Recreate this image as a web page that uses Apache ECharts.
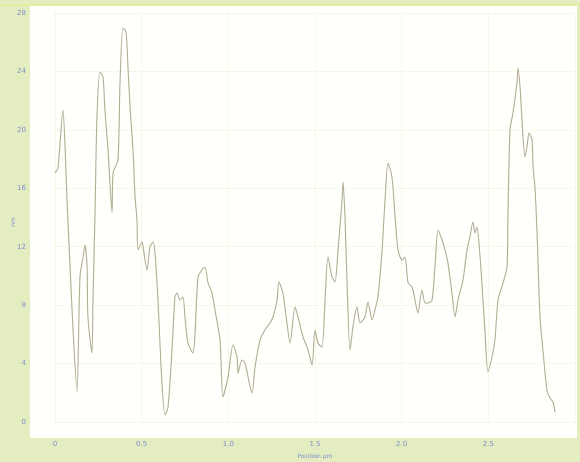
<!DOCTYPE html>
<html>
<head>
<meta charset="utf-8">
<script src="https://cdn.jsdelivr.net/npm/echarts@6/dist/echarts.min.js"></script>
<style>
  html, body { margin: 0; padding: 0; background: #e4edc0; }
  #chart { width: 580px; height: 462px; }
</style>
</head>
<body>
<div id="chart"></div>
<script>
// Surface height profile along a scan line
const positionsUm = [
  0, 0.017, 0.046, 0.058, 0.069, 0.087, 0.104, 0.127, 0.144, 0.162,
  0.173, 0.185, 0.190, 0.213, 0.219, 0.231, 0.242, 0.260, 0.277, 0.288,
  0.306, 0.329, 0.335, 0.363, 0.375, 0.392, 0.410, 0.421, 0.433, 0.450,
  0.462, 0.473, 0.479, 0.502, 0.508, 0.531, 0.548, 0.565, 0.577, 0.594,
  0.617, 0.635, 0.652, 0.675, 0.692, 0.704, 0.721, 0.738, 0.750, 0.767,
  0.796, 0.808, 0.825, 0.848, 0.865, 0.883, 0.906, 0.923, 0.952, 0.969,
  0.998, 1.027, 1.050, 1.056, 1.079, 1.096, 1.137, 1.154, 1.183, 1.211,
  1.240, 1.258, 1.281, 1.292, 1.315, 1.338, 1.356, 1.385, 1.402, 1.431,
  1.460, 1.483, 1.500, 1.517, 1.540, 1.558, 1.575, 1.598, 1.615, 1.633,
  1.656, 1.662, 1.673, 1.685, 1.702, 1.719, 1.742, 1.760, 1.788, 1.806,
  1.829, 1.846, 1.863, 1.887, 1.904, 1.921, 1.944, 1.962, 1.979, 2.002,
  2.019, 2.037, 2.060, 2.077, 2.094, 2.117, 2.135, 2.152, 2.175, 2.192,
  2.210, 2.233, 2.250, 2.267, 2.290, 2.308, 2.325, 2.354, 2.377, 2.394,
  2.411, 2.423, 2.435, 2.446, 2.463, 2.481, 2.498, 2.521, 2.538, 2.556,
  2.585, 2.608, 2.613, 2.625, 2.642, 2.665, 2.671, 2.683, 2.694, 2.711,
  2.723, 2.735, 2.752, 2.758, 2.769, 2.781, 2.798, 2.815, 2.838, 2.856,
  2.873, 2.885
];
const heightNm = [
  17.05, 17.39, 21.36, 18.83, 15.20, 10.61, 6.30, 2.05, 9.93, 11.30,
  12.12, 10.61, 7.19, 4.72, 8.35, 14.31, 20.88, 23.96, 23.62, 21.36,
  18.62, 14.38, 17.05, 17.94, 23.21, 26.97, 26.70, 24.30, 21.56, 18.62,
  15.40, 13.83, 11.78, 12.32, 11.98, 10.41, 11.98, 12.32, 11.57, 8.35,
  2.67, 0.48, 1.03, 4.93, 8.56, 8.83, 8.35, 8.56, 7.19, 5.41,
  4.72, 6.09, 9.93, 10.41, 10.61, 9.52, 8.83, 7.67, 5.61, 1.71,
  3.08, 5.27, 4.45, 3.35, 4.24, 4.04, 1.99, 3.77, 5.61, 6.30,
  6.78, 7.19, 8.35, 9.58, 8.83, 6.78, 5.41, 7.87, 7.19, 5.82,
  4.93, 3.90, 6.30, 5.41, 5.13, 8.35, 11.30, 9.93, 9.58, 11.78,
  15.20, 16.43, 14.03, 9.52, 4.93, 6.50, 7.87, 6.78, 7.19, 8.22,
  6.98, 7.67, 8.56, 11.78, 15.20, 17.73, 16.77, 14.03, 11.78, 11.09,
  11.30, 9.52, 9.24, 8.35, 7.46, 9.04, 8.15, 8.15, 8.35, 10.61,
  13.14, 12.46, 11.78, 10.89, 8.83, 7.19, 8.35, 9.72, 11.78, 12.67,
  13.69, 12.94, 13.35, 12.25, 9.52, 6.09, 3.42, 4.45, 5.61, 8.35,
  9.52, 10.61, 14.03, 19.99, 21.15, 23.21, 24.23, 22.93, 20.67, 18.14,
  18.83, 19.78, 19.31, 17.46, 16.09, 12.94, 7.19, 4.93, 2.19, 1.64,
  1.37, 0.68
];
const xTicks = { min: 0, max: 3, step: 0.5 };
const yTicks = { min: 0, max: 28, step: 4 };
const xTitle = 'Position µm';
const yTitle = 'nm';

const profile = positionsUm.map((x, i) => [x, heightNm[i]]);

const labelColor = '#7f8fcf';
const gridColor = '#efefd6';

const chart = echarts.init(document.getElementById('chart'), null, { renderer: 'canvas' });
chart.setOption({
  backgroundColor: '#e4edc0',
  animation: false,
  graphic: [
    { type: 'rect', z: -10, shape: { x: 0, y: 4, width: 580, height: 2 }, style: { fill: '#e3eda0' } },
    { type: 'rect', z: -9, shape: { x: 30, y: 6, width: 547, height: 432 }, style: { fill: '#fffffb' } },
    // vertical axis title, set inside the label column
    {
      type: 'text', x: 13, y: 222, rotation: Math.PI / 2,
      style: {
        text: yTitle, fill: labelColor, fontSize: 6, fontFamily: 'DejaVu Sans',
        align: 'center', verticalAlign: 'middle'
      }
    }
  ],
  grid: { left: 55, right: 5, top: 13, bottom: 40, outerBoundsMode: 'none', containLabel: false },
  xAxis: {
    type: 'value',
    min: xTicks.min, max: xTicks.max, interval: xTicks.step,
    name: xTitle, nameLocation: 'middle', nameGap: 31,
    nameTextStyle: { color: labelColor, fontSize: 6, fontFamily: 'DejaVu Sans' },
    axisLine: { show: false }, axisTick: { show: false },
    axisLabel: {
      color: labelColor, fontSize: 7, margin: 19, fontFamily: 'DejaVu Sans',
      showMaxLabel: false,
      formatter: v => (v === 0 ? '0' : v.toFixed(1))
    },
    splitLine: { show: true, lineStyle: { color: gridColor, type: 'dotted', width: 1 } }
  },
  yAxis: {
    type: 'value',
    min: yTicks.min, max: yTicks.max, interval: yTicks.step,
    axisLine: { show: false }, axisTick: { show: false },
    axisLabel: { color: labelColor, fontSize: 7, margin: 29, fontFamily: 'DejaVu Sans' },
    splitLine: { show: true, lineStyle: { color: gridColor, type: 'dotted', width: 1 } }
  },
  series: [{
    type: 'line',
    data: profile,
    smooth: 0.25,
    showSymbol: false,
    lineStyle: { color: '#b2ad95', width: 1.1 }
  }]
});
</script>
</body>
</html>
